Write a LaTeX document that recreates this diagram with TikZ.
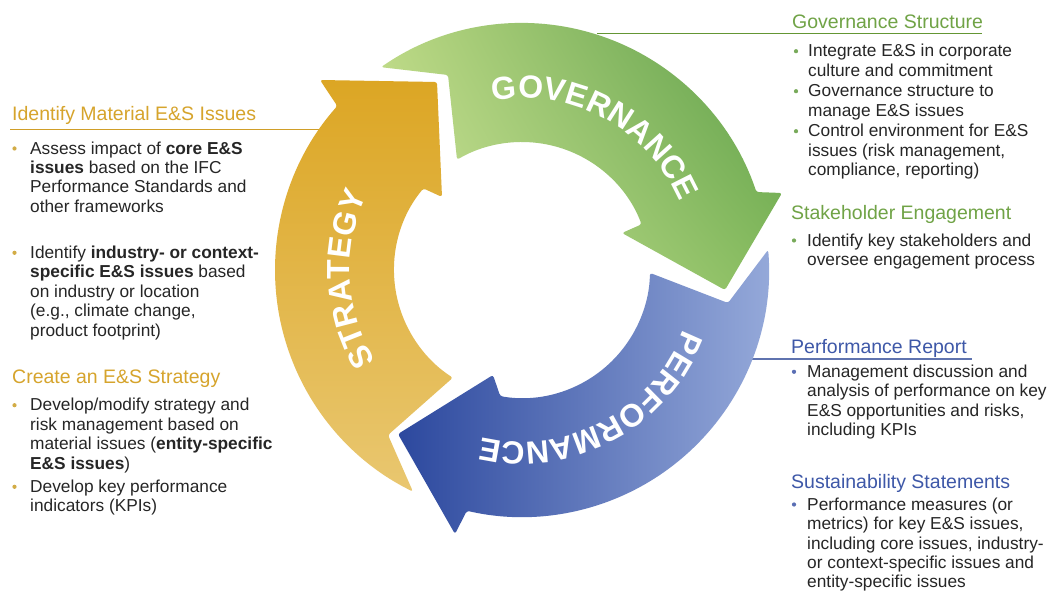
\documentclass[tikz,border=0pt]{standalone}
\usepackage{fontspec}
\setmainfont{Liberation Sans}
\usetikzlibrary{calc,decorations.text,shadings}
\definecolor{gold}{RGB}{214,164,44}
\definecolor{goldline}{RGB}{208,158,40}
\definecolor{golddot}{RGB}{210,172,70}
\definecolor{grn}{RGB}{112,163,70}
\definecolor{grnline}{RGB}{100,150,52}
\definecolor{grndot}{RGB}{120,170,90}
\definecolor{blu}{RGB}{62,88,168}
\definecolor{bluline}{RGB}{95,115,175}
\definecolor{bludot}{RGB}{90,110,180}
\definecolor{txt}{RGB}{38,38,38}
\definecolor{stratTop}{RGB}{220,166,36}
\definecolor{stratBot}{RGB}{233,199,112}
\definecolor{gUL}{RGB}{185,215,130}
\definecolor{gUR}{RGB}{88,155,70}
\definecolor{gLL}{RGB}{210,231,158}
\definecolor{gLR}{RGB}{135,188,95}
\definecolor{bL}{RGB}{44,72,158}
\definecolor{bR}{RGB}{150,170,218}
\newcommand\lblfont{\fontsize{32}{32}\selectfont\bfseries}
\begin{document}
\begin{tikzpicture}[x=1pt,y=1pt,
  body/.style={anchor=north west, inner sep=0pt, align=left, text=txt,
    font=\fontsize{17.3}{19.4}\selectfont},
  hd/.style={anchor=base west, inner sep=0pt, font=\fontsize{19.5}{22}\selectfont},
  lead/.style={line width=1.8pt},
  arrowshape/.style={rounded corners=2.5pt},
  lbl/.style={decorate, decoration={text along path, text align=center, text color=white}}]
\useasboundingbox (0,0) rectangle (1054,597);
\fill[white] (0,0) rectangle (1054,597);
\coordinate (C) at (522,327);

% ---------- leader lines ----------
\coordinate (gl1) at (10,467.5);  \coordinate (gl2) at (319,467.5);
\coordinate (gr1) at (597,563.5); \coordinate (gr2) at (982,563.5);
\coordinate (bl1) at (752,238);   \coordinate (bl2) at (972,238);
\draw[lead, goldline] (gl1) -- (gl2);
\draw[lead, grnline] (gr1) -- (gr2);
\draw[lead, bluline] (bl1) -- (bl2);

% ---------- arrows ----------
% STRATEGY
\shade[arrowshape, top color=stratTop, bottom color=stratBot]
  ($(C)+(-116.2:247)$) arc[start angle=-116.2, end angle=-221.6, radius=247]
  -- (320,517) -- (437,515) -- (442,400)
  -- ($(C)+(-219.6:128)$) arc[start angle=-219.6, end angle=-122.7, radius=128]
  -- (388,162) -- cycle;
% GOVERNANCE
\shade[arrowshape, upper left=gUL, upper right=gUR, lower left=gLL, lower right=gLR]
  ($(C)+(-235.2:247)$) arc[start angle=-235.2, end angle=-341.6, radius=247]
  -- (782,404) -- (725,307) -- (622,364)
  -- ($(C)+(-339.1:128)$) arc[start angle=-339.1, end angle=-239.5, radius=128]
  -- (448,522) -- cycle;
% PERFORMANCE
\shade[arrowshape, left color=bL, right color=bR]
  ($(C)+(4.7:247)$) arc[start angle=4.7, end angle=-102.9, radius=247]
  -- (455,63) -- (398,163) -- (493,222)
  -- ($(C)+(-99.8:128)$) arc[start angle=-99.8, end angle=-1.3, radius=128]
  -- (728,294) -- cycle;

% ---------- arrow labels ----------
\path[lbl, decoration={text={|\lblfont|STRATEGY}}]
  ($(C)+(-127:172)$) arc[start angle=-127, end angle=-227, radius=172];
\path[lbl, decoration={text={|\lblfont|GOVERNANCE}}]
  ($(C)+(111.5:172)$) arc[start angle=111.5, end angle=11.5, radius=172];
\path[lbl, decoration={text={|\lblfont|PERFORMANCE}}]
  ($(C)+(-12:172)$) arc[start angle=-12, end angle=-112, radius=172];

% ---------- left texts ----------
\node[hd, text=gold] (h1) at (12,476) {Identify Material E\&S Issues};
\fill[golddot] (14.5,448.5) circle (2.1);
\node[body] (t1) at (30,457) {\rule{0pt}{14pt}Assess impact of \textbf{core E\&S}\\
  \textbf{issues} based on the IFC\\ Performance Standards and\\ other frameworks};
\fill[golddot] (14.5,344.2) circle (2.1);
\node[body] (t2) at (30,352.7) {\rule{0pt}{14pt}Identify \textbf{industry- or context-}\\
  \textbf{specific E\&S issues} based\\ on industry or location\\ (e.g., climate change,\\ product footprint)};
\node[hd, text=gold] (h2) at (12,213) {Create an E\&S Strategy};
\fill[golddot] (14.5,191.8) circle (2.1);
\node[body] (t3) at (30,200.3) {\rule{0pt}{14pt}Develop/modify strategy and\\
  risk management based on\\ material issues (\textbf{entity-specific}\\ \textbf{E\&S issues})};
\fill[golddot] (14.5,110.2) circle (2.1);
\node[body] (t4) at (30,118.7) {\rule{0pt}{14pt}Develop key performance\\ indicators (KPIs)};

% ---------- right texts ----------
\node[hd, text=grn] (h3) at (792,568.7) {Governance Structure};
\fill[grndot] (796,545.8) circle (2.1);
\node[body] (t5) at (808,554.3) {\rule{0pt}{14pt}Integrate E\&S in corporate\\ culture and commitment};
\fill[grndot] (796,505.8) circle (2.1);
\node[body] (t6) at (808,514.3) {\rule{0pt}{14pt}Governance structure to\\ manage E\&S issues};
\fill[grndot] (796,465.8) circle (2.1);
\node[body] (t7) at (808,474.3) {\rule{0pt}{14pt}Control environment for E\&S\\ issues (risk management,\\ compliance, reporting)};

\node[hd, text=grn] (h4) at (791,377) {Stakeholder Engagement};
\fill[grndot] (794,356.5) circle (2.1);
\node[body] (t8) at (807,365) {\rule{0pt}{14pt}Identify key stakeholders and\\ oversee engagement process};

\node[hd, text=blu] (h5) at (791,243.7) {Performance Report};
\fill[bludot] (794,225.2) circle (2.1);
\node[body] (t9) at (807,233.7) {\rule{0pt}{14pt}Management discussion and\\ analysis of performance on key\\ E\&S opportunities and risks,\\ including KPIs};

\node[hd, text=blu] (h6) at (791,108.7) {Sustainability Statements};
\fill[bludot] (794,92.5) circle (2.1);
\node[body] (t10) at (807,101) {\rule{0pt}{14pt}Performance measures (or\\ metrics) for key E\&S issues,\\ including core issues, industry-\\ or context-specific issues and\\ entity-specific issues};
\end{tikzpicture}
\end{document}
